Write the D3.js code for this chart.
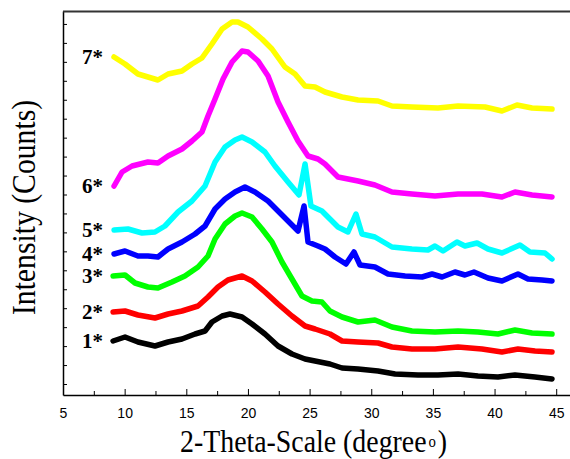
<!DOCTYPE html>
<html>
<head>
<meta charset="utf-8">
<style>
	body { margin: 0; background: #fff; }
	.tick-label { font-family: "Liberation Sans", Arial, sans-serif; font-size: 14px; }
	.axis-title { font-family: "Liberation Serif", "Times New Roman", serif; fill: #000; }
	.curve-label { font-family: "Liberation Serif", "Times New Roman", serif; font-size: 21px; font-weight: bold; }
</style>
</head>
<body>
<div id="xrd"></div>

<script src="https://cdn.jsdelivr.net/npm/d3@7/dist/d3.min.js"></script>
<script>

	// sample names, bottom to top
	var names = ["1*", "2*", "3*", "4*", "5*", "6*", "7*"];
	var colors = ["#000000", "#ff0000", "#00ff00", "#0000ff", "#00ffff", "#ff00ff", "#ffff00"];

	// [2-theta, intensity] (stacked, arbitrary counts)
	var s1 = [[9.06,54],[10.03,58],[11.08,53],[12.46,49],[13.52,53],[14.65,56],[15.71,61],[16.52,64],[17.08,73],[17.9,79],[18.54,81],[19.52,78],[20.33,71],[21.38,61],[22.44,49],[23.57,41],[24.63,36],[25.44,34],[26.65,31],[27.63,27],[28.93,26],[30.55,24],[31.93,21],[33.79,20],[35.41,20],[37.04,21],[38.66,19],[40.28,18],[41.66,20],[43.28,18],[44.66,16]];
	var s2 = [[9.06,83],[10.03,84],[11.08,80],[12.46,77],[13.52,81],[14.65,84],[15.95,89],[16.76,98],[17.57,108],[18.38,115],[19.52,119],[20.33,114],[21.38,103],[22.44,91],[23.57,79],[24.63,69],[25.44,66],[26.65,61],[27.63,54],[28.93,53],[30.55,52],[31.68,48],[33.3,46],[35.17,46],[37.04,48],[38.98,46],[40.6,43],[41.9,46],[43.28,44],[44.66,43]];
	var s3 = [[9.06,119],[10.03,120],[10.84,112],[11.89,108],[12.7,107],[13.84,113],[14.89,119],[15.95,128],[16.76,139],[17.33,156],[18.14,171],[18.95,179],[19.52,182],[20.33,178],[21.14,166],[21.95,153],[22.76,133],[23.57,116],[24.38,99],[25.19,94],[26.0,93],[26.65,84],[27.63,78],[28.93,73],[30.3,75],[31.68,68],[33.3,64],[35.17,63],[37.04,64],[38.66,63],[40.28,61],[41.66,65],[43.04,62],[44.66,61]];
	var s4 = [[9.14,141],[10.03,144],[11.08,139],[11.89,139],[12.7,138],[13.52,146],[14.65,153],[15.71,161],[16.52,169],[17.33,186],[18.14,196],[18.95,203],[19.76,208],[20.57,203],[21.63,194],[22.44,184],[23.25,174],[24.06,164],[24.55,189],[24.87,153],[25.68,149],[26.25,146],[27.06,138],[27.95,131],[28.6,143],[29.09,130],[30.3,128],[31.36,121],[32.74,119],[34.12,118],[34.93,121],[35.74,118],[36.79,123],[37.6,120],[38.33,123],[39.47,117],[40.6,114],[41.9,121],[42.71,116],[43.85,115],[44.66,114]];
	var s5 = [[9.14,165],[10.27,166],[11.41,162],[12.46,163],[13.27,169],[14.33,183],[15.46,194],[16.52,209],[17.33,233],[18.14,248],[18.95,255],[19.52,258],[20.33,253],[21.38,243],[22.19,229],[23.25,213],[24.14,200],[24.63,231],[25.11,189],[26.0,184],[26.65,176],[27.3,168],[28.11,163],[28.76,181],[29.25,161],[30.3,158],[31.68,148],[33.3,146],[34.6,145],[35.17,149],[35.82,144],[36.95,153],[37.6,149],[38.58,152],[39.47,146],[40.6,142],[42.06,150],[42.87,143],[44.09,142],[44.66,136]];
	var s6 = [[9.14,209],[9.79,223],[10.6,229],[11.89,233],[12.7,232],[13.52,239],[14.65,246],[15.46,254],[16.27,263],[16.76,279],[17.33,296],[17.98,316],[18.71,333],[19.52,344],[20.0,343],[20.82,334],[21.63,319],[22.44,293],[23.25,273],[24.06,254],[24.87,239],[25.68,236],[26.25,231],[27.3,218],[28.93,214],[30.3,210],[31.68,203],[33.3,201],[35.17,199],[37.04,201],[38.98,201],[40.6,198],[41.66,203],[43.04,200],[44.66,198]];
	var s7 = [[9.14,338],[10.03,331],[11.08,321],[11.89,318],[12.7,315],[13.52,321],[14.65,324],[15.46,331],[16.27,337],[17.08,351],[17.9,366],[18.71,373],[19.19,373],[20.0,368],[21.14,356],[21.95,346],[23.0,328],[23.82,321],[24.63,309],[25.44,308],[26.25,303],[27.63,298],[28.93,295],[30.55,294],[31.68,289],[33.3,288],[35.41,287],[37.04,289],[39.23,288],[40.6,284],[41.82,290],[43.04,287],[44.66,286]];
	var series = [s1, s2, s3, s4, s5, s6, s7];

	var xMajor = [5, 10, 15, 20, 25, 30, 35, 40, 45];

	var w = 570, h = 459;
	var padLeft = 63, padTop = 11, axisY = 395;

	var svg = d3.select("#xrd")
				.append("svg")
				.attr("width", w)
				.attr("height", h);

	// scales (right edge of frame falls just outside the window)
	var x = d3.scaleLinear().domain([5, 46.5]).range([padLeft, padLeft + 41.5 * 12.33]),
		y = d3.scaleLinear().domain([0, 384]).range([axisY, padTop]);

	// curves
	var line = d3.line()
				 .x(function(d) { return x(d[0]); })
				 .y(function(d) { return y(d[1]); });

	svg.selectAll(".curve")
	   .data(series)
	   .enter()
	   .append("path")
	   .attr("class", "curve")
	   .attr("d", line)
	   .attr("fill", "none")
	   .attr("stroke", function(d, i) { return colors[i]; })
	   .attr("stroke-width", 5.5)
	   .attr("stroke-linejoin", "round")
	   .attr("stroke-linecap", "round");

	// x axis, ticks pointing inward
	var xAxis = d3.axisBottom(x)
				  .tickValues(xMajor)
				  .tickSizeInner(-6)
				  .tickSizeOuter(0)
				  .tickPadding(13);
	var gx = svg.append("g")
				.attr("transform", "translate(0," + axisY + ")")
				.call(xAxis);
	gx.select(".domain").attr("stroke", "#000").attr("stroke-width", 1.5);
	gx.selectAll("text").attr("class", "tick-label").attr("fill", "#000");
	gx.attr("font-family", null).attr("font-size", null);

	// minor ticks
	var xMinor = d3.axisBottom(x)
				   .tickValues(xMajor.map(function(d) { return d + 2.5; }))
				   .tickSizeInner(-4)
				   .tickSizeOuter(0)
				   .tickFormat("");
	svg.append("g")
	   .attr("transform", "translate(0," + axisY + ")")
	   .call(xMinor)
	   .select(".domain").remove();

	// y axis, no labels
	var yAxis = d3.axisLeft(y)
				  .tickValues(d3.range(11, 380, 18.95))
				  .tickSizeInner(-4)
				  .tickSizeOuter(0)
				  .tickFormat("");
	var gy = svg.append("g")
				.attr("transform", "translate(" + padLeft + ",0)")
				.call(yAxis);
	gy.select(".domain").attr("stroke", "#000").attr("stroke-width", 1.5);

	// top border
	svg.append("line")
	   .attr("x1", padLeft).attr("x2", w)
	   .attr("y1", padTop + 0.5).attr("y2", padTop + 0.5)
	   .attr("stroke", "#333")
	   .attr("stroke-width", 2);

	// sample labels beside each curve start
	svg.selectAll(".curve-label")
	   .data(series)
	   .enter()
	   .append("text")
	   .attr("class", "curve-label")
	   .attr("x", 103)
	   .attr("y", function(d) { return y(d[0][1]); })
	   .attr("dy", "0.35em")
	   .attr("text-anchor", "end")
	   .text(function(d, i) { return names[i]; });

	// x axis title; the small ring sits in the gap before the bracket
	var gt = svg.append("g").attr("transform", "translate(313.5,452) scale(0.87,1)");
	var t1 = gt.append("text")
			   .attr("class", "axis-title")
			   .attr("font-size", 32)
			   .attr("text-anchor", "middle")
			   .text("2-Theta-Scale (degree\u2009\u2009)");
	var full = t1.node().getComputedTextLength(),
		head = t1.node().getSubStringLength(0, 21),
		gap = t1.node().getSubStringLength(21, 2);
	gt.append("text")
	  .attr("class", "axis-title")
	  .attr("font-size", 17)
	  .attr("text-anchor", "middle")
	  .attr("x", -full / 2 + head + gap / 2)
	  .attr("y", -5)
	  .text("o");

	// y axis title
	svg.append("text")
	   .attr("class", "axis-title")
	   .attr("font-size", 33)
	   .attr("transform", "translate(35,207.5) rotate(-90) scale(0.9,1)")
	   .attr("text-anchor", "middle")
	   .text("Intensity (Counts)");

</script>
</body>
</html>
